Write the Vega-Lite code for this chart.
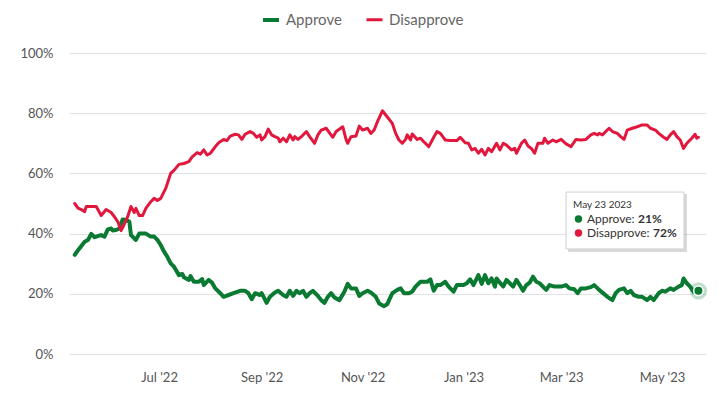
{
  "$schema": "https://vega.github.io/schema/vega-lite/v6.json",
  "width": 637,
  "height": 301,
  "autosize": {"type": "none"},
  "padding": {"left": 69, "top": 53, "right": 13, "bottom": 44},
  "background": "white",
  "config": {
    "view": {"stroke": null},
    "font": "Lato",
    "axis": {"labelFont": "Lato", "labelFontSize": 13, "labelColor": "#555555"},
    "text": {"font": "Lato"}
  },
  "layer": [
    {
      "data": {
        "values": [
          {"d": "2022-05-11", "s": "Approve", "v": 32.9},
          {"d": "2022-05-13", "s": "Approve", "v": 34.5},
          {"d": "2022-05-15", "s": "Approve", "v": 35.9},
          {"d": "2022-05-17", "s": "Approve", "v": 37.3},
          {"d": "2022-05-19", "s": "Approve", "v": 37.9},
          {"d": "2022-05-21", "s": "Approve", "v": 39.9},
          {"d": "2022-05-23", "s": "Approve", "v": 38.8},
          {"d": "2022-05-25", "s": "Approve", "v": 39.2},
          {"d": "2022-05-27", "s": "Approve", "v": 39.5},
          {"d": "2022-05-29", "s": "Approve", "v": 39},
          {"d": "2022-05-31", "s": "Approve", "v": 41.4},
          {"d": "2022-06-02", "s": "Approve", "v": 41.7},
          {"d": "2022-06-03", "s": "Approve", "v": 41},
          {"d": "2022-06-05", "s": "Approve", "v": 41.2},
          {"d": "2022-06-07", "s": "Approve", "v": 41.7},
          {"d": "2022-06-09", "s": "Approve", "v": 44.7},
          {"d": "2022-06-11", "s": "Approve", "v": 44.5},
          {"d": "2022-06-13", "s": "Approve", "v": 44},
          {"d": "2022-06-14", "s": "Approve", "v": 39.5},
          {"d": "2022-06-16", "s": "Approve", "v": 38.4},
          {"d": "2022-06-17", "s": "Approve", "v": 37.9},
          {"d": "2022-06-19", "s": "Approve", "v": 40},
          {"d": "2022-06-23", "s": "Approve", "v": 40},
          {"d": "2022-06-26", "s": "Approve", "v": 39},
          {"d": "2022-06-28", "s": "Approve", "v": 39},
          {"d": "2022-06-30", "s": "Approve", "v": 37.9},
          {"d": "2022-07-02", "s": "Approve", "v": 36.2},
          {"d": "2022-07-04", "s": "Approve", "v": 34},
          {"d": "2022-07-06", "s": "Approve", "v": 32.3},
          {"d": "2022-07-08", "s": "Approve", "v": 30.1},
          {"d": "2022-07-10", "s": "Approve", "v": 29},
          {"d": "2022-07-13", "s": "Approve", "v": 26.2},
          {"d": "2022-07-15", "s": "Approve", "v": 26.6},
          {"d": "2022-07-16", "s": "Approve", "v": 25.5},
          {"d": "2022-07-19", "s": "Approve", "v": 24.6},
          {"d": "2022-07-20", "s": "Approve", "v": 25.9},
          {"d": "2022-07-22", "s": "Approve", "v": 24},
          {"d": "2022-07-25", "s": "Approve", "v": 24},
          {"d": "2022-07-27", "s": "Approve", "v": 24.9},
          {"d": "2022-07-28", "s": "Approve", "v": 22.9},
          {"d": "2022-07-31", "s": "Approve", "v": 24.6},
          {"d": "2022-08-02", "s": "Approve", "v": 23.7},
          {"d": "2022-08-04", "s": "Approve", "v": 21.8},
          {"d": "2022-08-07", "s": "Approve", "v": 20.2},
          {"d": "2022-08-09", "s": "Approve", "v": 19},
          {"d": "2022-08-12", "s": "Approve", "v": 19.6},
          {"d": "2022-08-15", "s": "Approve", "v": 20.2},
          {"d": "2022-08-19", "s": "Approve", "v": 21},
          {"d": "2022-08-22", "s": "Approve", "v": 21},
          {"d": "2022-08-24", "s": "Approve", "v": 20.2},
          {"d": "2022-08-26", "s": "Approve", "v": 18.2},
          {"d": "2022-08-28", "s": "Approve", "v": 20.2},
          {"d": "2022-08-31", "s": "Approve", "v": 19.6},
          {"d": "2022-09-01", "s": "Approve", "v": 20.2},
          {"d": "2022-09-04", "s": "Approve", "v": 17},
          {"d": "2022-09-06", "s": "Approve", "v": 19},
          {"d": "2022-09-09", "s": "Approve", "v": 20.4},
          {"d": "2022-09-11", "s": "Approve", "v": 21},
          {"d": "2022-09-14", "s": "Approve", "v": 19.6},
          {"d": "2022-09-16", "s": "Approve", "v": 19},
          {"d": "2022-09-18", "s": "Approve", "v": 21},
          {"d": "2022-09-20", "s": "Approve", "v": 19.3},
          {"d": "2022-09-22", "s": "Approve", "v": 21},
          {"d": "2022-09-24", "s": "Approve", "v": 20.2},
          {"d": "2022-09-26", "s": "Approve", "v": 21},
          {"d": "2022-09-28", "s": "Approve", "v": 19},
          {"d": "2022-09-30", "s": "Approve", "v": 20.2},
          {"d": "2022-10-02", "s": "Approve", "v": 21},
          {"d": "2022-10-05", "s": "Approve", "v": 19.3},
          {"d": "2022-10-07", "s": "Approve", "v": 17.9},
          {"d": "2022-10-09", "s": "Approve", "v": 17},
          {"d": "2022-10-11", "s": "Approve", "v": 19},
          {"d": "2022-10-13", "s": "Approve", "v": 20.2},
          {"d": "2022-10-15", "s": "Approve", "v": 18.8},
          {"d": "2022-10-18", "s": "Approve", "v": 17.9},
          {"d": "2022-10-21", "s": "Approve", "v": 20.7},
          {"d": "2022-10-23", "s": "Approve", "v": 23.3},
          {"d": "2022-10-25", "s": "Approve", "v": 21.8},
          {"d": "2022-10-28", "s": "Approve", "v": 21.8},
          {"d": "2022-10-30", "s": "Approve", "v": 19.3},
          {"d": "2022-11-01", "s": "Approve", "v": 20.2},
          {"d": "2022-11-04", "s": "Approve", "v": 21},
          {"d": "2022-11-06", "s": "Approve", "v": 20.4},
          {"d": "2022-11-09", "s": "Approve", "v": 19},
          {"d": "2022-11-11", "s": "Approve", "v": 16.8},
          {"d": "2022-11-14", "s": "Approve", "v": 15.9},
          {"d": "2022-11-16", "s": "Approve", "v": 16.6},
          {"d": "2022-11-17", "s": "Approve", "v": 17.9},
          {"d": "2022-11-19", "s": "Approve", "v": 20.2},
          {"d": "2022-11-22", "s": "Approve", "v": 21.3},
          {"d": "2022-11-24", "s": "Approve", "v": 21.8},
          {"d": "2022-11-26", "s": "Approve", "v": 20.2},
          {"d": "2022-11-29", "s": "Approve", "v": 20.2},
          {"d": "2022-12-01", "s": "Approve", "v": 20.7},
          {"d": "2022-12-03", "s": "Approve", "v": 22.4},
          {"d": "2022-12-06", "s": "Approve", "v": 24},
          {"d": "2022-12-10", "s": "Approve", "v": 24},
          {"d": "2022-12-12", "s": "Approve", "v": 24.8},
          {"d": "2022-12-14", "s": "Approve", "v": 21},
          {"d": "2022-12-16", "s": "Approve", "v": 22.9},
          {"d": "2022-12-18", "s": "Approve", "v": 22.9},
          {"d": "2022-12-21", "s": "Approve", "v": 24},
          {"d": "2022-12-23", "s": "Approve", "v": 22.4},
          {"d": "2022-12-26", "s": "Approve", "v": 20.7},
          {"d": "2022-12-28", "s": "Approve", "v": 22.9},
          {"d": "2023-01-01", "s": "Approve", "v": 22.9},
          {"d": "2023-01-03", "s": "Approve", "v": 23.5},
          {"d": "2023-01-05", "s": "Approve", "v": 24.8},
          {"d": "2023-01-07", "s": "Approve", "v": 22.9},
          {"d": "2023-01-10", "s": "Approve", "v": 26.2},
          {"d": "2023-01-12", "s": "Approve", "v": 23.3},
          {"d": "2023-01-14", "s": "Approve", "v": 26.2},
          {"d": "2023-01-16", "s": "Approve", "v": 23.5},
          {"d": "2023-01-18", "s": "Approve", "v": 25.1},
          {"d": "2023-01-20", "s": "Approve", "v": 22.4},
          {"d": "2023-01-21", "s": "Approve", "v": 25.1},
          {"d": "2023-01-23", "s": "Approve", "v": 23.7},
          {"d": "2023-01-25", "s": "Approve", "v": 22.4},
          {"d": "2023-01-27", "s": "Approve", "v": 24.6},
          {"d": "2023-01-29", "s": "Approve", "v": 23.5},
          {"d": "2023-01-31", "s": "Approve", "v": 22.4},
          {"d": "2023-02-02", "s": "Approve", "v": 24.6},
          {"d": "2023-02-04", "s": "Approve", "v": 22.9},
          {"d": "2023-02-06", "s": "Approve", "v": 21},
          {"d": "2023-02-08", "s": "Approve", "v": 22.9},
          {"d": "2023-02-10", "s": "Approve", "v": 23.7},
          {"d": "2023-02-12", "s": "Approve", "v": 25.7},
          {"d": "2023-02-14", "s": "Approve", "v": 24},
          {"d": "2023-02-16", "s": "Approve", "v": 23.5},
          {"d": "2023-02-18", "s": "Approve", "v": 22.4},
          {"d": "2023-02-20", "s": "Approve", "v": 21.3},
          {"d": "2023-02-22", "s": "Approve", "v": 22.9},
          {"d": "2023-02-25", "s": "Approve", "v": 22.4},
          {"d": "2023-03-01", "s": "Approve", "v": 22.4},
          {"d": "2023-03-04", "s": "Approve", "v": 22.9},
          {"d": "2023-03-06", "s": "Approve", "v": 21.8},
          {"d": "2023-03-09", "s": "Approve", "v": 21.5},
          {"d": "2023-03-11", "s": "Approve", "v": 20.2},
          {"d": "2023-03-13", "s": "Approve", "v": 21.8},
          {"d": "2023-03-16", "s": "Approve", "v": 21.8},
          {"d": "2023-03-19", "s": "Approve", "v": 22.2},
          {"d": "2023-03-21", "s": "Approve", "v": 22.9},
          {"d": "2023-03-24", "s": "Approve", "v": 21.3},
          {"d": "2023-03-26", "s": "Approve", "v": 20.4},
          {"d": "2023-03-29", "s": "Approve", "v": 19},
          {"d": "2023-04-01", "s": "Approve", "v": 17.9},
          {"d": "2023-04-03", "s": "Approve", "v": 20.2},
          {"d": "2023-04-05", "s": "Approve", "v": 21.3},
          {"d": "2023-04-08", "s": "Approve", "v": 21.8},
          {"d": "2023-04-10", "s": "Approve", "v": 20.2},
          {"d": "2023-04-12", "s": "Approve", "v": 21},
          {"d": "2023-04-14", "s": "Approve", "v": 19.6},
          {"d": "2023-04-17", "s": "Approve", "v": 19},
          {"d": "2023-04-19", "s": "Approve", "v": 19},
          {"d": "2023-04-22", "s": "Approve", "v": 17.9},
          {"d": "2023-04-24", "s": "Approve", "v": 19},
          {"d": "2023-04-26", "s": "Approve", "v": 17.9},
          {"d": "2023-04-29", "s": "Approve", "v": 20.2},
          {"d": "2023-05-01", "s": "Approve", "v": 21},
          {"d": "2023-05-03", "s": "Approve", "v": 20.7},
          {"d": "2023-05-06", "s": "Approve", "v": 21.8},
          {"d": "2023-05-08", "s": "Approve", "v": 21.3},
          {"d": "2023-05-11", "s": "Approve", "v": 22.4},
          {"d": "2023-05-13", "s": "Approve", "v": 22.9},
          {"d": "2023-05-14", "s": "Approve", "v": 25.1},
          {"d": "2023-05-16", "s": "Approve", "v": 23.5},
          {"d": "2023-05-18", "s": "Approve", "v": 22.4},
          {"d": "2023-05-20", "s": "Approve", "v": 20.7},
          {"d": "2023-05-22", "s": "Approve", "v": 20.7},
          {"d": "2023-05-23", "s": "Approve", "v": 21},
          {"d": "2022-05-11", "s": "Disapprove", "v": 50},
          {"d": "2022-05-13", "s": "Disapprove", "v": 48.5},
          {"d": "2022-05-15", "s": "Disapprove", "v": 48},
          {"d": "2022-05-17", "s": "Disapprove", "v": 47.3},
          {"d": "2022-05-18", "s": "Disapprove", "v": 49},
          {"d": "2022-05-24", "s": "Disapprove", "v": 49},
          {"d": "2022-05-27", "s": "Disapprove", "v": 46},
          {"d": "2022-05-30", "s": "Disapprove", "v": 48},
          {"d": "2022-06-02", "s": "Disapprove", "v": 47},
          {"d": "2022-06-04", "s": "Disapprove", "v": 45.6},
          {"d": "2022-06-06", "s": "Disapprove", "v": 44},
          {"d": "2022-06-08", "s": "Disapprove", "v": 41},
          {"d": "2022-06-09", "s": "Disapprove", "v": 42},
          {"d": "2022-06-12", "s": "Disapprove", "v": 45.6},
          {"d": "2022-06-14", "s": "Disapprove", "v": 49},
          {"d": "2022-06-16", "s": "Disapprove", "v": 47},
          {"d": "2022-06-17", "s": "Disapprove", "v": 48.4},
          {"d": "2022-06-19", "s": "Disapprove", "v": 46},
          {"d": "2022-06-21", "s": "Disapprove", "v": 46},
          {"d": "2022-06-23", "s": "Disapprove", "v": 48.4},
          {"d": "2022-06-26", "s": "Disapprove", "v": 50.6},
          {"d": "2022-06-28", "s": "Disapprove", "v": 51.7},
          {"d": "2022-06-30", "s": "Disapprove", "v": 51},
          {"d": "2022-07-02", "s": "Disapprove", "v": 51.7},
          {"d": "2022-07-05", "s": "Disapprove", "v": 55},
          {"d": "2022-07-08", "s": "Disapprove", "v": 60},
          {"d": "2022-07-10", "s": "Disapprove", "v": 61},
          {"d": "2022-07-13", "s": "Disapprove", "v": 63},
          {"d": "2022-07-16", "s": "Disapprove", "v": 63.3},
          {"d": "2022-07-19", "s": "Disapprove", "v": 63.9},
          {"d": "2022-07-21", "s": "Disapprove", "v": 65.5},
          {"d": "2022-07-24", "s": "Disapprove", "v": 66.9},
          {"d": "2022-07-26", "s": "Disapprove", "v": 66.4},
          {"d": "2022-07-28", "s": "Disapprove", "v": 67.8},
          {"d": "2022-07-30", "s": "Disapprove", "v": 66.1},
          {"d": "2022-08-01", "s": "Disapprove", "v": 66.7},
          {"d": "2022-08-04", "s": "Disapprove", "v": 68.9},
          {"d": "2022-08-06", "s": "Disapprove", "v": 70.2},
          {"d": "2022-08-09", "s": "Disapprove", "v": 71.3},
          {"d": "2022-08-11", "s": "Disapprove", "v": 70.9},
          {"d": "2022-08-13", "s": "Disapprove", "v": 72.4},
          {"d": "2022-08-16", "s": "Disapprove", "v": 73},
          {"d": "2022-08-18", "s": "Disapprove", "v": 72.8},
          {"d": "2022-08-20", "s": "Disapprove", "v": 71.3},
          {"d": "2022-08-22", "s": "Disapprove", "v": 73},
          {"d": "2022-08-25", "s": "Disapprove", "v": 73.9},
          {"d": "2022-08-27", "s": "Disapprove", "v": 73.3},
          {"d": "2022-08-29", "s": "Disapprove", "v": 72},
          {"d": "2022-08-31", "s": "Disapprove", "v": 72.8},
          {"d": "2022-09-01", "s": "Disapprove", "v": 71.1},
          {"d": "2022-09-03", "s": "Disapprove", "v": 72.2},
          {"d": "2022-09-05", "s": "Disapprove", "v": 74.7},
          {"d": "2022-09-07", "s": "Disapprove", "v": 72.8},
          {"d": "2022-09-09", "s": "Disapprove", "v": 72.2},
          {"d": "2022-09-11", "s": "Disapprove", "v": 71.7},
          {"d": "2022-09-12", "s": "Disapprove", "v": 70.5},
          {"d": "2022-09-14", "s": "Disapprove", "v": 71.7},
          {"d": "2022-09-16", "s": "Disapprove", "v": 70.5},
          {"d": "2022-09-18", "s": "Disapprove", "v": 72.8},
          {"d": "2022-09-20", "s": "Disapprove", "v": 71.1},
          {"d": "2022-09-21", "s": "Disapprove", "v": 72.2},
          {"d": "2022-09-23", "s": "Disapprove", "v": 71.3},
          {"d": "2022-09-25", "s": "Disapprove", "v": 72.2},
          {"d": "2022-09-28", "s": "Disapprove", "v": 73.9},
          {"d": "2022-09-30", "s": "Disapprove", "v": 72.2},
          {"d": "2022-10-03", "s": "Disapprove", "v": 70},
          {"d": "2022-10-05", "s": "Disapprove", "v": 72.8},
          {"d": "2022-10-07", "s": "Disapprove", "v": 74.4},
          {"d": "2022-10-10", "s": "Disapprove", "v": 75},
          {"d": "2022-10-14", "s": "Disapprove", "v": 72},
          {"d": "2022-10-16", "s": "Disapprove", "v": 73.9},
          {"d": "2022-10-20", "s": "Disapprove", "v": 75.5},
          {"d": "2022-10-22", "s": "Disapprove", "v": 71.3},
          {"d": "2022-10-23", "s": "Disapprove", "v": 70},
          {"d": "2022-10-25", "s": "Disapprove", "v": 72.2},
          {"d": "2022-10-28", "s": "Disapprove", "v": 72.4},
          {"d": "2022-10-30", "s": "Disapprove", "v": 75.7},
          {"d": "2022-11-01", "s": "Disapprove", "v": 74.4},
          {"d": "2022-11-04", "s": "Disapprove", "v": 75},
          {"d": "2022-11-06", "s": "Disapprove", "v": 73.3},
          {"d": "2022-11-08", "s": "Disapprove", "v": 74.4},
          {"d": "2022-11-10", "s": "Disapprove", "v": 77.2},
          {"d": "2022-11-13", "s": "Disapprove", "v": 80.8},
          {"d": "2022-11-15", "s": "Disapprove", "v": 79.4},
          {"d": "2022-11-19", "s": "Disapprove", "v": 76.6},
          {"d": "2022-11-21", "s": "Disapprove", "v": 73.3},
          {"d": "2022-11-23", "s": "Disapprove", "v": 71.1},
          {"d": "2022-11-25", "s": "Disapprove", "v": 70},
          {"d": "2022-11-27", "s": "Disapprove", "v": 71.3},
          {"d": "2022-11-28", "s": "Disapprove", "v": 72.8},
          {"d": "2022-11-30", "s": "Disapprove", "v": 71.1},
          {"d": "2022-12-01", "s": "Disapprove", "v": 73.1},
          {"d": "2022-12-04", "s": "Disapprove", "v": 71.3},
          {"d": "2022-12-06", "s": "Disapprove", "v": 71.7},
          {"d": "2022-12-08", "s": "Disapprove", "v": 70.5},
          {"d": "2022-12-11", "s": "Disapprove", "v": 68.9},
          {"d": "2022-12-14", "s": "Disapprove", "v": 72},
          {"d": "2022-12-16", "s": "Disapprove", "v": 73.9},
          {"d": "2022-12-18", "s": "Disapprove", "v": 73.3},
          {"d": "2022-12-21", "s": "Disapprove", "v": 71.1},
          {"d": "2022-12-24", "s": "Disapprove", "v": 70.9},
          {"d": "2022-12-28", "s": "Disapprove", "v": 70.9},
          {"d": "2022-12-30", "s": "Disapprove", "v": 72},
          {"d": "2023-01-02", "s": "Disapprove", "v": 70.2},
          {"d": "2023-01-04", "s": "Disapprove", "v": 70},
          {"d": "2023-01-06", "s": "Disapprove", "v": 67.8},
          {"d": "2023-01-08", "s": "Disapprove", "v": 68.3},
          {"d": "2023-01-10", "s": "Disapprove", "v": 66.7},
          {"d": "2023-01-12", "s": "Disapprove", "v": 68},
          {"d": "2023-01-14", "s": "Disapprove", "v": 66.1},
          {"d": "2023-01-16", "s": "Disapprove", "v": 68.3},
          {"d": "2023-01-18", "s": "Disapprove", "v": 67.2},
          {"d": "2023-01-21", "s": "Disapprove", "v": 70},
          {"d": "2023-01-23", "s": "Disapprove", "v": 67.8},
          {"d": "2023-01-25", "s": "Disapprove", "v": 70},
          {"d": "2023-01-27", "s": "Disapprove", "v": 69.4},
          {"d": "2023-01-30", "s": "Disapprove", "v": 67.8},
          {"d": "2023-02-01", "s": "Disapprove", "v": 68.3},
          {"d": "2023-02-02", "s": "Disapprove", "v": 66.7},
          {"d": "2023-02-05", "s": "Disapprove", "v": 70},
          {"d": "2023-02-07", "s": "Disapprove", "v": 71.1},
          {"d": "2023-02-09", "s": "Disapprove", "v": 69.1},
          {"d": "2023-02-11", "s": "Disapprove", "v": 68.3},
          {"d": "2023-02-13", "s": "Disapprove", "v": 66.7},
          {"d": "2023-02-15", "s": "Disapprove", "v": 70},
          {"d": "2023-02-18", "s": "Disapprove", "v": 70},
          {"d": "2023-02-19", "s": "Disapprove", "v": 71.7},
          {"d": "2023-02-21", "s": "Disapprove", "v": 70},
          {"d": "2023-02-24", "s": "Disapprove", "v": 71.1},
          {"d": "2023-02-26", "s": "Disapprove", "v": 70.5},
          {"d": "2023-03-01", "s": "Disapprove", "v": 71.3},
          {"d": "2023-03-04", "s": "Disapprove", "v": 69.8},
          {"d": "2023-03-07", "s": "Disapprove", "v": 68.9},
          {"d": "2023-03-10", "s": "Disapprove", "v": 71.3},
          {"d": "2023-03-13", "s": "Disapprove", "v": 71.1},
          {"d": "2023-03-16", "s": "Disapprove", "v": 71.3},
          {"d": "2023-03-19", "s": "Disapprove", "v": 72.8},
          {"d": "2023-03-21", "s": "Disapprove", "v": 73.3},
          {"d": "2023-03-23", "s": "Disapprove", "v": 72.8},
          {"d": "2023-03-24", "s": "Disapprove", "v": 73.3},
          {"d": "2023-03-26", "s": "Disapprove", "v": 72.8},
          {"d": "2023-03-28", "s": "Disapprove", "v": 73.9},
          {"d": "2023-03-30", "s": "Disapprove", "v": 75},
          {"d": "2023-04-01", "s": "Disapprove", "v": 73.9},
          {"d": "2023-04-04", "s": "Disapprove", "v": 73.3},
          {"d": "2023-04-06", "s": "Disapprove", "v": 72.2},
          {"d": "2023-04-08", "s": "Disapprove", "v": 71.3},
          {"d": "2023-04-10", "s": "Disapprove", "v": 74.4},
          {"d": "2023-04-13", "s": "Disapprove", "v": 75},
          {"d": "2023-04-16", "s": "Disapprove", "v": 75.5},
          {"d": "2023-04-19", "s": "Disapprove", "v": 76.1},
          {"d": "2023-04-22", "s": "Disapprove", "v": 76.1},
          {"d": "2023-04-24", "s": "Disapprove", "v": 75},
          {"d": "2023-04-27", "s": "Disapprove", "v": 74.4},
          {"d": "2023-04-29", "s": "Disapprove", "v": 73.3},
          {"d": "2023-05-02", "s": "Disapprove", "v": 72},
          {"d": "2023-05-04", "s": "Disapprove", "v": 71.3},
          {"d": "2023-05-06", "s": "Disapprove", "v": 72.8},
          {"d": "2023-05-08", "s": "Disapprove", "v": 73.9},
          {"d": "2023-05-10", "s": "Disapprove", "v": 72.2},
          {"d": "2023-05-12", "s": "Disapprove", "v": 71.1},
          {"d": "2023-05-14", "s": "Disapprove", "v": 68.3},
          {"d": "2023-05-16", "s": "Disapprove", "v": 70},
          {"d": "2023-05-19", "s": "Disapprove", "v": 71.7},
          {"d": "2023-05-21", "s": "Disapprove", "v": 73},
          {"d": "2023-05-22", "s": "Disapprove", "v": 71.7},
          {"d": "2023-05-23", "s": "Disapprove", "v": 72}
        ]
      },
      "mark": {"type": "line", "strokeJoin": "round", "strokeCap": "round"},
      "encoding": {
        "x": {
          "field": "d",
          "type": "temporal",
          "scale": {
            "type": "utc",
            "domain": [
              {"year": 2022, "month": 5, "date": 7, "hours": 13, "utc": true},
              {"year": 2023, "month": 5, "date": 27, "hours": 14, "utc": true}
            ]
          },
          "axis": {
            "title": null,
            "values": [
              {"year": 2022, "month": 7, "date": 1, "utc": true},
              {"year": 2022, "month": 9, "date": 1, "utc": true},
              {"year": 2022, "month": 11, "date": 1, "utc": true},
              {"year": 2023, "month": 1, "date": 1, "utc": true},
              {"year": 2023, "month": 3, "date": 1, "utc": true},
              {"year": 2023, "month": 5, "date": 1, "utc": true}
            ],
            "format": "%b '%y",
            "domain": false,
            "ticks": false,
            "grid": false,
            "labelPadding": 17
          }
        },
        "y": {
          "field": "v",
          "type": "quantitative",
          "scale": {"domain": [0, 100], "nice": false},
          "axis": {
            "title": null,
            "values": [0, 20, 40, 60, 80, 100],
            "labelExpr": "datum.value + '%'",
            "domain": false,
            "ticks": false,
            "gridColor": "#e2e2e2",
            "labelPadding": 16
          }
        },
        "color": {
          "field": "s",
          "type": "nominal",
          "scale": {"domain": ["Approve", "Disapprove"], "range": ["#0a7a33", "#e2173d"]},
          "legend": {
            "orient": "none",
            "legendX": 192,
            "legendY": -43,
            "direction": "horizontal",
            "title": null,
            "labelFont": "Lato",
            "labelFontSize": 15,
            "labelColor": "#666666",
            "symbolType": "stroke",
            "symbolStrokeWidth": 4,
            "symbolSize": 256,
            "labelOffset": 5,
            "columnPadding": 18
          }
        },
        "strokeWidth": {
          "field": "s",
          "type": "nominal",
          "scale": {"domain": ["Approve", "Disapprove"], "range": [4, 3]},
          "legend": null
        }
      }
    },
    {
      "data": {"values": [{"d": "2023-05-23", "v": 21}]},
      "mark": {"type": "point", "filled": true, "color": "#0a7a33", "opacity": 0.25, "size": 300},
      "encoding": {
        "x": {"field": "d", "type": "temporal"},
        "y": {"field": "v", "type": "quantitative"}
      }
    },
    {
      "data": {"values": [{"d": "2023-05-23", "v": 21}]},
      "mark": {"type": "point", "filled": true, "color": "#0a7a33", "opacity": 1, "size": 90, "stroke": "white", "strokeWidth": 1.5},
      "encoding": {
        "x": {"field": "d", "type": "temporal"},
        "y": {"field": "v", "type": "quantitative"}
      }
    },
    {
      "data": {"values": [{"t": "May 23 2023", "a": "21%", "b": "72%"}]},
      "layer": [
        {
          "mark": {"type": "rect", "fill": "#000000", "opacity": 0.15, "xOffset": 2, "x2Offset": 3, "yOffset": 2, "y2Offset": 3},
          "encoding": {
            "x": {"datum": {"year": 2023, "month": 3, "date": 4, "utc": true}, "type": "temporal"},
            "x2": {"datum": {"year": 2023, "month": 5, "date": 14, "hours": 7, "utc": true}},
            "y": {"datum": 53.8, "type": "quantitative"},
            "y2": {"datum": 34.9}
          }
        },
        {
          "mark": {"type": "rect", "fill": "white", "stroke": "#cfcfcf", "strokeWidth": 1},
          "encoding": {
            "x": {"datum": {"year": 2023, "month": 3, "date": 4, "utc": true}, "type": "temporal"},
            "x2": {"datum": {"year": 2023, "month": 5, "date": 14, "hours": 7, "utc": true}},
            "y": {"datum": 53.8, "type": "quantitative"},
            "y2": {"datum": 34.9}
          }
        },
        {
          "mark": {"type": "text", "align": "left", "baseline": "middle", "fontSize": 10, "color": "#333333"},
          "encoding": {
            "x": {"datum": {"year": 2023, "month": 3, "date": 8, "hours": 5, "utc": true}, "type": "temporal"},
            "y": {"datum": 49.5, "type": "quantitative"},
            "text": {"field": "t"}
          }
        },
        {
          "mark": {"type": "point", "filled": true, "size": 55, "opacity": 1, "color": "#0a7a33"},
          "encoding": {
            "x": {"datum": {"year": 2023, "month": 3, "date": 11, "hours": 12, "utc": true}, "type": "temporal"},
            "y": {"datum": 44.85, "type": "quantitative"}
          }
        },
        {
          "mark": {"type": "point", "filled": true, "size": 55, "opacity": 1, "color": "#e2173d"},
          "encoding": {
            "x": {"datum": {"year": 2023, "month": 3, "date": 11, "hours": 12, "utc": true}, "type": "temporal"},
            "y": {"datum": 40.2, "type": "quantitative"}
          }
        },
        {
          "mark": {"type": "text", "align": "left", "baseline": "middle", "fontSize": 12, "color": "#333333", "text": "Approve:"},
          "encoding": {
            "x": {"datum": {"year": 2023, "month": 3, "date": 16, "hours": 14, "utc": true}, "type": "temporal"},
            "y": {"datum": 44.85, "type": "quantitative"}
          }
        },
        {
          "mark": {"type": "text", "align": "left", "baseline": "middle", "fontSize": 12, "fontWeight": "bold", "color": "#333333"},
          "encoding": {
            "x": {"datum": {"year": 2023, "month": 4, "date": 16, "hours": 12, "utc": true}, "type": "temporal"},
            "y": {"datum": 44.85, "type": "quantitative"},
            "text": {"field": "a"}
          }
        },
        {
          "mark": {"type": "text", "align": "left", "baseline": "middle", "fontSize": 12, "color": "#333333", "text": "Disapprove:"},
          "encoding": {
            "x": {"datum": {"year": 2023, "month": 3, "date": 16, "hours": 14, "utc": true}, "type": "temporal"},
            "y": {"datum": 40.2, "type": "quantitative"}
          }
        },
        {
          "mark": {"type": "text", "align": "left", "baseline": "middle", "fontSize": 12, "fontWeight": "bold", "color": "#333333"},
          "encoding": {
            "x": {"datum": {"year": 2023, "month": 4, "date": 25, "hours": 14, "utc": true}, "type": "temporal"},
            "y": {"datum": 40.2, "type": "quantitative"},
            "text": {"field": "b"}
          }
        }
      ]
    }
  ]
}
